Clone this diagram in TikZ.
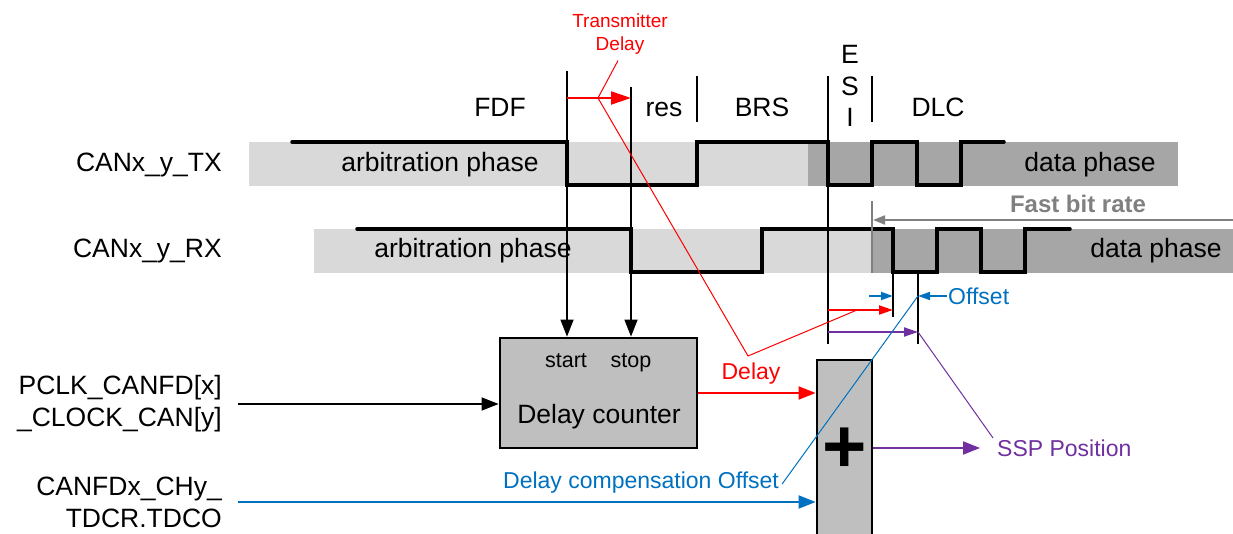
\documentclass[tikz,border=0pt]{standalone}
\usepackage{fontspec}
\setmainfont{Liberation Sans}
\usetikzlibrary{arrows.meta}

\definecolor{arbgray}{HTML}{D9D9D9}
\definecolor{datagray}{HTML}{A6A6A6}
\definecolor{boxgray}{HTML}{BFBFBF}
\definecolor{rategray}{HTML}{808080}
\definecolor{tdcblue}{HTML}{0070C0}
\definecolor{ssppurple}{HTML}{7030A0}

\tikzset{
  lbl/.style={font=\fontsize{26.5}{32}\selectfont, inner sep=0pt},
  sml/.style={font=\fontsize{23}{27}\selectfont, inner sep=0pt},
  signal/.style={line width=3.5pt, line cap=round},
  fieldsep/.style={line width=1.8pt},
  leader/.style={line width=1pt},
  blk/.style={draw, line width=2.8pt, fill=boxgray},
  bighead/.style={-{Triangle[length=17pt,width=13pt]}},
  smallhead/.style={-{Triangle[length=14pt,width=9pt]}},
}

\begin{document}
\begin{tikzpicture}[x=1pt,y=-1pt]
    \clip (0,0) rectangle (1233,534);

    % Signal names
    \node[lbl, anchor=base east] (txname) at (222,172) {CANx\_y\_TX};
    \node[lbl, anchor=base east] (rxname) at (222,258) {CANx\_y\_RX};
    \node[lbl, anchor=east, align=right] (clkname) at (222,404) {PCLK\_CANFD[x]\\\_CLOCK\_CAN[y]};
    \node[lbl, anchor=east, align=right] (tdconame) at (222,502) {CANFDx\_CHy\_\\TDCR.TDCO};

    % Phase bands
    \fill[arbgray] (249,142) rectangle (808,186);
    \fill[datagray] (808,142) rectangle (1178,186);
    \fill[arbgray] (314,229) rectangle (872,273);
    \fill[datagray] (872,229) rectangle (1233,273);
    \node[lbl, anchor=base] (txarb) at (440,172) {arbitration phase};
    \node[lbl, anchor=base] (txdata) at (1090,172) {data phase};
    \node[lbl, anchor=base] (rxarb) at (473,258) {arbitration phase};
    \node[lbl, anchor=base] (rxdata) at (1156,258) {data phase};

    % Field labels
    \node[lbl, anchor=base] (fdf) at (500,117) {FDF};
    \node[lbl, anchor=base] (res) at (664,117) {res};
    \node[lbl, anchor=base] (brs) at (762,117) {BRS};
    \node[lbl, anchor=base] (esie) at (850,64) {E};
    \node[lbl, anchor=base] (esis) at (850,95.5) {S};
    \node[lbl, anchor=base] (esii) at (850,127) {I};
    \node[lbl, anchor=base] (dlc) at (938,117) {DLC};

    % Field separators
    \coordinate (fdfsep) at (567,71);
    \coordinate (ressep) at (631,87);
    \draw[fieldsep] (697,76) -- (697,122);
    \draw[fieldsep] (828,76) -- (828,344);
    \draw[fieldsep] (872,76) -- (872,122);

    % TX and RX signals
    \draw[signal] (292,142) -| (567,185) -| (697,142) -| (828,185) -| (872,142) -| (917,185) -| (961,142) -- (1004,142);
    \draw[signal] (357,229) -| (631,272) -| (762,229) -| (893,272) -| (937,229) -| (981,272) -| (1025,229) -- (1070,229);

    % Fast bit rate
    \coordinate (ratestart) at (1233,220);
    \draw[rategray, line width=2pt] (872,201) -- (872,273);
    \node[font=\fontsize{24}{28}\selectfont\bfseries, text=rategray, inner sep=0pt] (rate) at (1078,204) {Fast bit rate};
    \draw[rategray, line width=2pt, -{Triangle[length=12pt,width=9pt]}] (ratestart) -- (873,220);

    % Delay counter and adder
    \node[blk, minimum width=197pt, minimum height=110pt] (dc) at (598.5,393) {};
    \node[lbl, font=\fontsize{21.5}{25}\selectfont, anchor=base] (start) at (566,367) {start};
    \node[lbl, font=\fontsize{21.5}{25}\selectfont, anchor=base] (stop) at (631,367) {stop};
    \node[lbl, anchor=base] (dclabel) at (599,423) {Delay counter};
    \node[blk, minimum width=55pt, minimum height=176pt] (adder) at (844.5,448) {};
    \node[font=\fontsize{76}{76}\selectfont\bfseries, inner sep=0pt] (plussign) at (845,450) {+};

    % Inputs
    \draw[line width=1.5pt, bighead] (fdfsep) -- (fdfsep |- dc.north);
    \draw[line width=1.5pt, bighead] (ressep) -- (ressep |- dc.north);
    \draw[line width=1.5pt, bighead] ([xshift=16pt]clkname.east) -- (clkname.east -| dc.west);
    \draw[tdcblue, line width=2pt, bighead] ([xshift=16pt]tdconame.east) -- (tdconame.east -| adder.west);
    \draw[red, line width=2pt, bighead] (dc.east) -- (dc.east -| adder.west);

    % Transmitter delay
    \node[font=\fontsize{19}{23}\selectfont, text=red, align=center, inner sep=0pt] (txdelay) at (620,34) {Transmitter\\Delay};
    \coordinate (txdknee) at (598,98);
    \coordinate (delayknee) at (748,356);
    \draw[red, line width=2pt, -{Triangle[length=20pt,width=13pt]}] (fdfsep |- txdknee) -- (ressep |- txdknee);
    \node[sml, text=red, anchor=base] (delay) at (751,379) {Delay};

    % Offset below RX
    \draw[fieldsep] (893,272) -- (893,317);
    \draw[fieldsep] (918,272) -- (918,344);
    \coordinate (measure) at (828,310);
    \coordinate (ssppoint) at (918,332);
    \draw[red, line width=2pt, smallhead] (measure) -- (893,310);
    \draw[ssppurple, line width=2pt, smallhead] (measure |- ssppoint) -- (ssppoint);
    \node[sml, text=tdcblue, anchor=west, inner sep=1pt] (offset) at (947,296) {Offset};
    \coordinate (offsetpoint) at (918,296);
    \draw[tdcblue, line width=1.8pt, -{Triangle[length=12pt,width=8pt]}] (869,296) -- (893,296);
    \draw[tdcblue, line width=1.8pt, -{Triangle[length=12pt,width=8pt]}] (offset.west) -- (offsetpoint);

    % Adder output
    \node[sml, text=ssppurple, anchor=west] (ssp) at (997,448) {SSP Position};
    \draw[ssppurple, line width=2pt, bighead] (adder.east) -- ([xshift=-17pt]ssp.west);

    % Leaders
    \node[sml, text=tdcblue, anchor=base] (dco) at (641,488) {Delay compensation Offset};
    \draw[red, leader] ([xshift=-2pt,yshift=-6pt]txdelay.south) -- (txdknee) -- (delayknee) -- (857,310);
    \draw[tdcblue, leader] ([xshift=3pt,yshift=-2pt]dco.east) -- (offsetpoint);
    \draw[ssppurple, leader] (ssppoint) -- (993,438);
\end{tikzpicture}
\end{document}
